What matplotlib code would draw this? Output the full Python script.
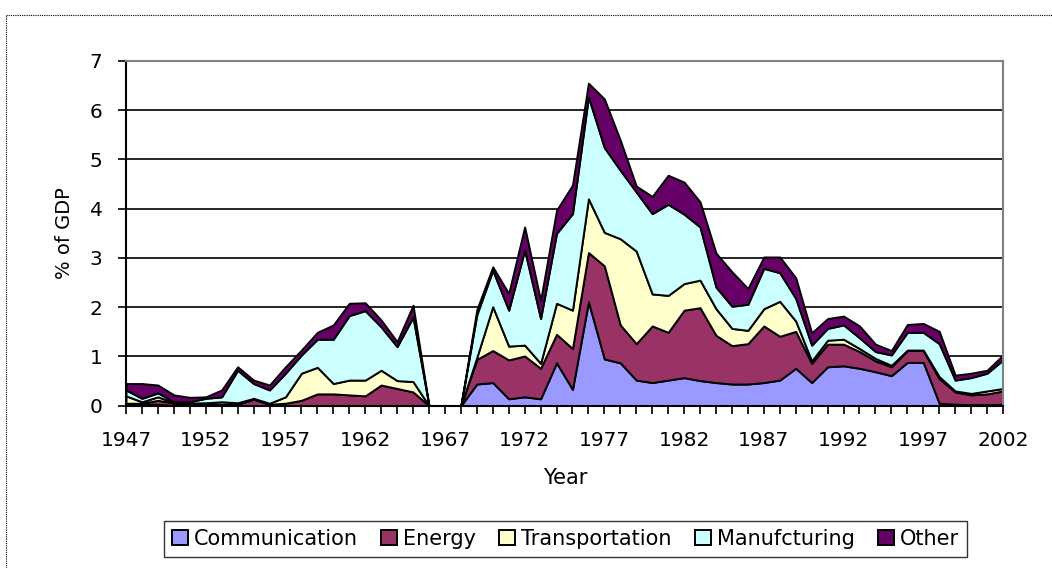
import matplotlib.pyplot as plt
from matplotlib.lines import Line2D

# yearly values, % of GDP
years = list(range(1947, 2003))

communication = [
    0.02, 0.03, 0.03, 0.00, 0.00, 0.00, 0.00, 0.00, 0.00, 0.00,   # 1947-56
    0.00, 0.00, 0.00, 0.00, 0.00, 0.00, 0.00, 0.00, 0.00, 0.00,   # 1957-66
    0.00, 0.00, 0.44, 0.47, 0.14, 0.18, 0.14, 0.87, 0.33, 2.11,   # 1967-76
    0.95, 0.87, 0.52, 0.47, 0.52, 0.57, 0.51, 0.47, 0.44, 0.44,   # 1977-86
    0.47, 0.52, 0.76, 0.47, 0.79, 0.81, 0.76, 0.69, 0.61, 0.88,   # 1987-96
    0.88, 0.05, 0.03, 0.02, 0.02, 0.03,                           # 1997-2002
]
energy = [
    0.03, 0.02, 0.08, 0.05, 0.03, 0.03, 0.03, 0.03, 0.13, 0.03,
    0.05, 0.11, 0.24, 0.24, 0.22, 0.20, 0.42, 0.35, 0.28, 0.00,
    0.00, 0.00, 0.50, 0.65, 0.79, 0.83, 0.62, 0.58, 0.83, 1.00,
    1.89, 0.77, 0.74, 1.15, 0.97, 1.37, 1.48, 0.96, 0.78, 0.82,
    1.15, 0.89, 0.75, 0.39, 0.46, 0.44, 0.34, 0.22, 0.18, 0.24,
    0.24, 0.50, 0.25, 0.20, 0.22, 0.27,
]
transportation = [
    0.15, 0.03, 0.07, 0.01, 0.02, 0.03, 0.05, 0.03, 0.02, 0.02,
    0.13, 0.55, 0.54, 0.21, 0.30, 0.32, 0.30, 0.16, 0.21, 0.00,
    0.00, 0.00, 0.04, 0.89, 0.28, 0.22, 0.10, 0.63, 0.78, 1.09,
    0.68, 1.75, 1.88, 0.65, 0.75, 0.54, 0.56, 0.54, 0.35, 0.27,
    0.35, 0.71, 0.21, 0.05, 0.08, 0.10, 0.06, 0.05, 0.03, 0.01,
    0.01, 0.04, 0.02, 0.03, 0.06, 0.05,
]
manufacturing = [
    0.12, 0.07, 0.08, 0.02, 0.03, 0.09, 0.10, 0.66, 0.30, 0.27,
    0.48, 0.37, 0.57, 0.90, 1.31, 1.41, 0.88, 0.69, 1.31, 0.00,
    0.00, 0.00, 0.87, 0.74, 0.73, 1.93, 0.91, 1.42, 1.96, 2.07,
    1.72, 1.39, 1.20, 1.63, 1.85, 1.41, 1.08, 0.44, 0.45, 0.53,
    0.82, 0.58, 0.46, 0.32, 0.24, 0.29, 0.22, 0.14, 0.21, 0.36,
    0.36, 0.67, 0.22, 0.32, 0.36, 0.58,
]
other = [
    0.13, 0.30, 0.16, 0.14, 0.09, 0.03, 0.14, 0.07, 0.07, 0.10,
    0.13, 0.10, 0.14, 0.29, 0.25, 0.16, 0.14, 0.10, 0.24, 0.00,
    0.00, 0.00, 0.10, 0.07, 0.34, 0.47, 0.37, 0.47, 0.58, 0.28,
    0.99, 0.61, 0.12, 0.35, 0.59, 0.65, 0.51, 0.69, 0.70, 0.32,
    0.23, 0.32, 0.42, 0.25, 0.20, 0.18, 0.24, 0.15, 0.09, 0.16,
    0.18, 0.25, 0.10, 0.09, 0.06, 0.10,
]

series_names = ['Communication', 'Energy', 'Transportation', 'Manufcturing', 'Other']
colors = ['#9999FF', '#993366', '#FFFFCC', '#CCFFFF', '#660066']

W, H = 1052, 568
fig = plt.figure(figsize=(W / 100, H / 100), dpi=100)
ax = fig.add_axes([126 / W, 1 - 405.7 / H, (1003 - 126) / W, (405.7 - 61) / H])

ax.stackplot(years, communication, energy, transportation, manufacturing, other,
             colors=colors, labels=series_names, edgecolor='black', linewidth=1.4)

ax.set_xlim(years[0], years[-1])
ax.set_ylim(0, 7)
ax.set_yticks(range(8))
ax.set_xticks(years)
ax.set_xticklabels([str(y) if (y - years[0]) % 5 == 0 else '' for y in years])

ax.set_axisbelow(True)
ax.yaxis.grid(True, color='black', linewidth=1.2)
ax.xaxis.grid(False)

for side in ['left', 'bottom']:
    ax.spines[side].set_color('black')
    ax.spines[side].set_linewidth(1.5)
for side in ['top', 'right']:
    ax.spines[side].set_color('#808080')
    ax.spines[side].set_linewidth(1.5)

ax.tick_params(axis='x', length=6, width=1.2, direction='out', pad=12, labelsize=14.5)
ax.tick_params(axis='y', length=6, width=1.2, direction='out', pad=11, labelsize=14.5)

fig.text(65 / W, 1 - 233 / H, '% of GDP', rotation=90, ha='center', va='center', fontsize=14)
fig.text(565 / W, 1 - 478 / H, 'Year', ha='center', va='center', fontsize=15)

handles, labels = ax.get_legend_handles_labels()
leg = fig.legend(handles, labels, loc='center', bbox_to_anchor=(565.5 / W, 1 - 539 / H),
                 ncol=5, frameon=True, fancybox=False, edgecolor='black', fontsize=15,
                 handlelength=0.75, handleheight=0.75, handletextpad=0.3,
                 columnspacing=1.12, borderpad=0.4)
leg.get_frame().set_linewidth(1.0)

# dotted chart-area border (top and left only visible)
fig.add_artist(Line2D([6 / W, 1], [1 - 15 / H, 1 - 15 / H], transform=fig.transFigure,
                      color='black', linewidth=0.8, linestyle=(0, (1, 1))))
fig.add_artist(Line2D([6 / W, 6 / W], [0, 1 - 15 / H], transform=fig.transFigure,
                      color='black', linewidth=0.8, linestyle=(0, (1, 1))))

fig.savefig('out.png', dpi=100)
